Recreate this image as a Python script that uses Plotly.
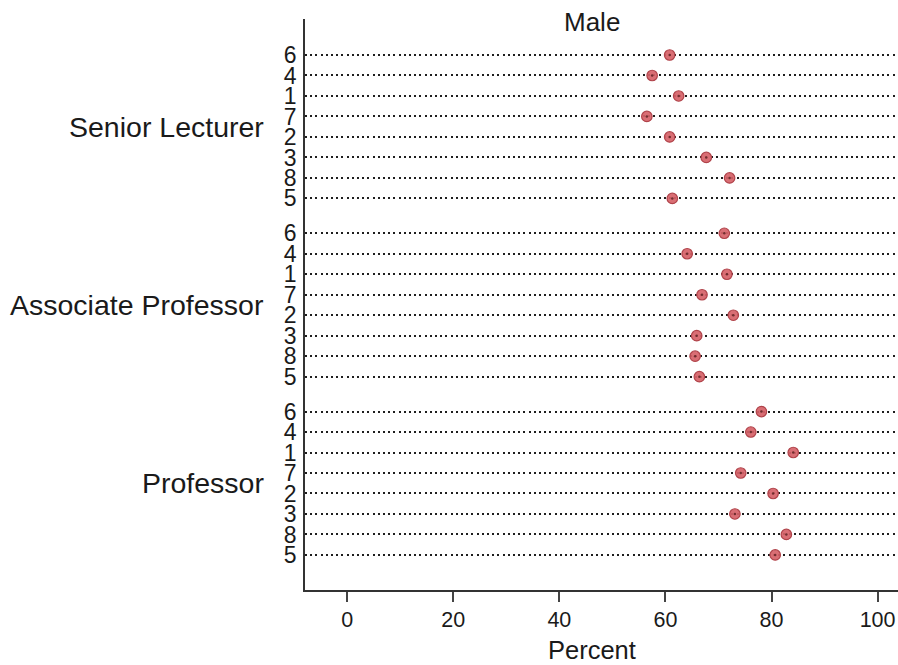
import plotly.graph_objects as go

# Survey items, in the order they are listed within each rank
ranks = ["Senior Lecturer", "Associate Professor", "Professor"]
item_labels = ["6", "4", "1", "7", "2", "3", "8", "5"]

# Percent of male staff, per item
senior_lecturer = [60.8, 57.5, 62.5, 56.5, 60.8, 67.7, 72.1, 61.3]
associate_professor = [71.1, 64.1, 71.6, 66.9, 72.8, 65.9, 65.6, 66.4]
professor = [78.1, 76.1, 84.1, 74.2, 80.3, 73.1, 82.8, 80.7]

x_ticks = [0, 20, 40, 60, 80, 100]

groups = [senior_lecturer, associate_professor, professor]

# Row layout: one unit per item, with a wider gap between ranks
GROUP_STEP = 8.7
row_pos, row_text, row_val, group_centers = [], [], [], []
for g, values in enumerate(groups):
    start = g * GROUP_STEP
    positions = [start + i for i in range(len(item_labels))]
    row_pos += positions
    row_text += item_labels
    row_val += values
    group_centers.append(sum(positions) / len(positions))

FONT = "Liberation Sans, Arial, Helvetica, sans-serif"
INK = "#1a1a1a"

fig = go.Figure()

fig.add_trace(go.Scatter(
    x=row_val, y=row_pos, mode="markers",
    marker=dict(size=10.5, color="rgba(214,98,104,0.92)",
                line=dict(color="#b0434a", width=1.2)),
    hoverinfo="x+y", showlegend=False,
))
# small dark centre dot where the dotted rule runs through each marker
fig.add_trace(go.Scatter(
    x=row_val, y=row_pos, mode="markers",
    marker=dict(size=2.5, color="rgba(80,25,25,0.75)"),
    hoverinfo="skip", showlegend=False,
))

for name, yc in zip(ranks, group_centers):
    fig.add_annotation(
        text=name, xref="paper", yref="y", x=-0.066, y=yc,
        xanchor="right", yanchor="middle", showarrow=False,
        font=dict(family=FONT, size=28.5, color=INK),
    )

fig.add_annotation(
    text="Male", xref="paper", yref="paper", x=0.484, y=0.9947,
    xanchor="center", yanchor="middle", showarrow=False,
    font=dict(family=FONT, size=26, color=INK),
)
fig.add_annotation(
    text="Percent", xref="paper", yref="paper", x=0.484, y=-0.105,
    xanchor="center", yanchor="middle", showarrow=False,
    font=dict(family=FONT, size=25.5, color=INK),
)

fig.update_layout(
    width=898, height=665, autosize=False,
    margin=dict(l=305, r=0, t=19, b=75, pad=0),
    paper_bgcolor="white", plot_bgcolor="white",
    font=dict(family=FONT, color=INK),
    xaxis=dict(
        range=[-7.95, 103.85], tickvals=x_ticks,
        ticks="outside", ticklen=10, tickwidth=1.5, tickcolor="#444",
        showline=True, linecolor="#333", linewidth=1.5,
        showgrid=False, zeroline=False,
        tickfont=dict(family=FONT, size=21.5, color=INK),
        ticklabelstandoff=-1,
    ),
    yaxis=dict(
        range=[26.11, -1.757], tickvals=row_pos, ticktext=row_text,
        ticks="", showline=True, linecolor="#333", linewidth=1.5,
        showgrid=True, gridcolor="#1e1e1e", gridwidth=2,
        griddash="2px,3.2px", zeroline=False,
        tickfont=dict(family=FONT, size=23, color=INK),
        ticklabelstandoff=2,
    ),
)

fig.write_html("out.html")
